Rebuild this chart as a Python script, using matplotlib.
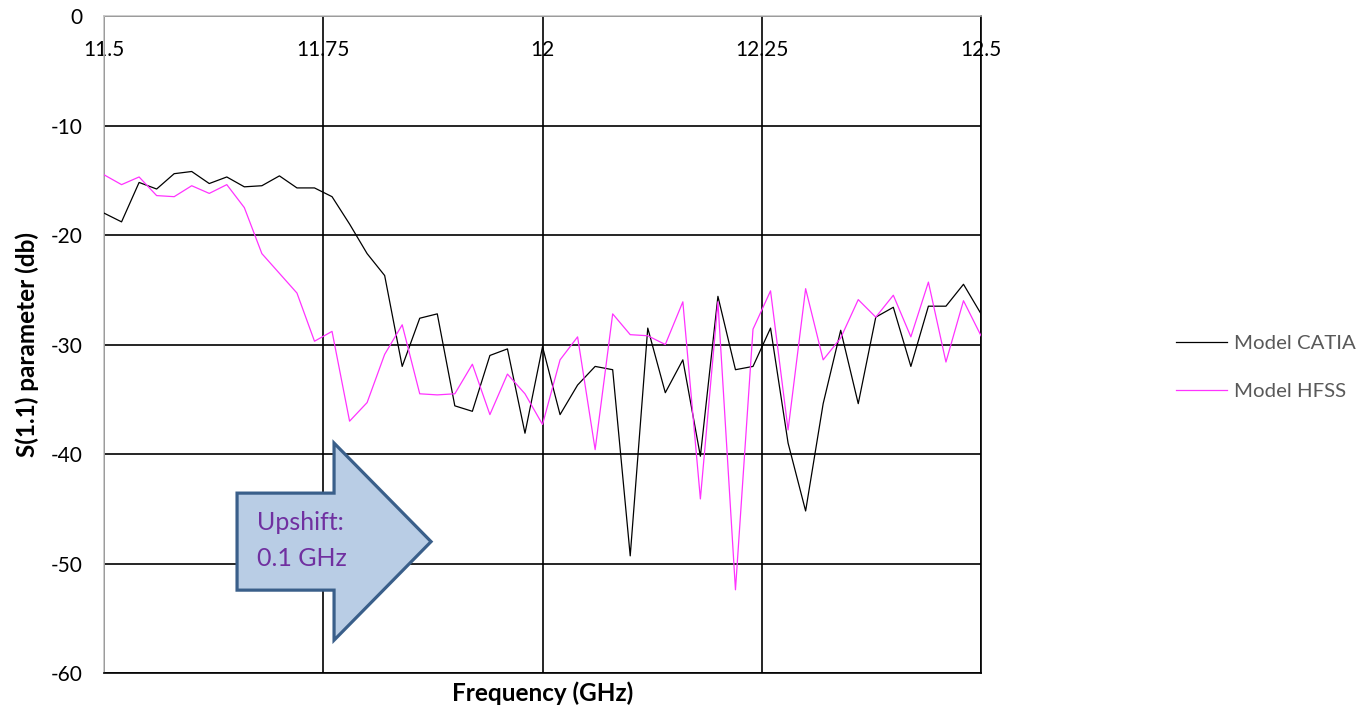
import matplotlib
matplotlib.use("Agg")
import matplotlib.pyplot as plt
import matplotlib.patches as mpatches


FREQ_GHZ = [
    11.50, 11.52, 11.54, 11.56, 11.58, 11.60, 11.62, 11.64, 11.66, 11.68,
    11.70, 11.72, 11.74, 11.76, 11.78, 11.80, 11.82, 11.84, 11.86, 11.88,
    11.90, 11.92, 11.94, 11.96, 11.98, 12.00, 12.02, 12.04, 12.06, 12.08,
    12.10, 12.12, 12.14, 12.16, 12.18, 12.20, 12.22, 12.24, 12.26, 12.28,
    12.30, 12.32, 12.34, 12.36, 12.38, 12.40, 12.42, 12.44, 12.46, 12.48,
    12.50,
]

S11_CATIA = [
    -18.0, -18.8, -15.2, -15.8, -14.4, -14.2, -15.3, -14.7, -15.6, -15.5,
    -14.6, -15.7, -15.7, -16.5, -19.0, -21.7, -23.7, -32.0, -27.6, -27.2,
    -35.6, -36.1, -31.0, -30.4, -38.1, -30.2, -36.4, -33.7, -32.0, -32.3,
    -49.3, -28.5, -34.4, -31.4, -40.2, -25.6, -32.3, -32.0, -28.5, -39.0,
    -45.2, -35.4, -28.7, -35.4, -27.5, -26.6, -32.0, -26.5, -26.5, -24.5,
    -27.2,
]

S11_HFSS = [
    -14.5, -15.4, -14.7, -16.4, -16.5, -15.5, -16.2, -15.4, -17.5, -21.7,
    -23.5, -25.3, -29.7, -28.8, -37.0, -35.3, -30.9, -28.2, -34.5, -34.6,
    -34.5, -31.8, -36.4, -32.7, -34.5, -37.3, -31.4, -29.3, -39.6, -27.2,
    -29.1, -29.2, -30.0, -26.1, -44.1, -26.1, -52.4, -28.6, -25.1, -37.8,
    -24.9, -31.4, -29.4, -25.9, -27.5, -25.5, -29.3, -24.3, -31.6, -26.0,
    -29.2,
]

X_TICKS = [11.5, 11.75, 12.0, 12.25, 12.5]
X_TICK_LABELS = ["11.5", "11.75", "12", "12.25", "12.5"]
Y_TICKS = [0, -10, -20, -30, -40, -50, -60]

FONT = ["Lato", "DejaVu Sans"]


def main():
    plt.rcParams["font.family"] = FONT

    fig = plt.figure(figsize=(13.65, 7.11), dpi=100)
    ax = fig.add_axes([0.0762, 0.0534, 0.6425, 0.9241])

    ax.plot(FREQ_GHZ, S11_CATIA, color="black", linewidth=0.9, label="Model CATIA", zorder=3)
    ax.plot(FREQ_GHZ, S11_HFSS, color="#FF33FF", linewidth=0.9, label="Model HFSS", zorder=3)

    ax.set_xlim(11.5, 12.5)
    ax.set_ylim(-60, 0)
    ax.set_xticks(X_TICKS)
    ax.set_xticklabels(X_TICK_LABELS)
    ax.set_yticks(Y_TICKS)
    ax.set_yticklabels([str(v) for v in Y_TICKS])

    # excel style: x axis crosses at 0, so its labels sit just under the top edge
    ax.tick_params(axis="x", top=True, labeltop=True, bottom=False, labelbottom=False,
                   length=0, pad=-31.5, labelsize=15)
    ax.tick_params(axis="y", length=0, pad=15.5, labelsize=15)

    ax.grid(True, color="black", linewidth=1.2, zorder=1)
    ax.set_axisbelow(True)
    for side in ["top", "left"]:
        ax.spines[side].set_color("#BFBFBF")
        ax.spines[side].set_linewidth(1.1)
    for side in ["bottom", "right"]:
        ax.spines[side].set_color("black")
        ax.spines[side].set_linewidth(1.2)

    ax.set_xlabel("Frequency (GHz)", fontsize=17.5, fontweight="bold", labelpad=6)
    ax.set_ylabel("S(1.1) parameter (db)", fontsize=17.5, fontweight="bold", labelpad=8)

    arrow = mpatches.FancyArrow(
        11.6517, -48.0, 0.2212, 0.0,
        width=8.86, head_width=18.0, head_length=0.1106,
        length_includes_head=True,
        facecolor="#B9CDE5", edgecolor="#3A5F8A", linewidth=2.3, zorder=4,
    )
    ax.add_patch(arrow)
    ax.text(11.6745, -47.9, "Upshift:\n0.1 GHz", color="#7030A0", fontsize=18,
            ha="left", va="center", linespacing=1.7, zorder=5)

    leg = ax.legend(loc="center left", bbox_to_anchor=(0.848, 0.483), bbox_transform=fig.transFigure,
                    frameon=False, fontsize=14.7, handlelength=2.5, handletextpad=0.35,
                    labelspacing=1.5)
    for text in leg.get_texts():
        text.set_color("#595959")

    fig.savefig("out.png", dpi=100, facecolor="white")
    plt.close(fig)


if __name__ == "__main__":
    main()
